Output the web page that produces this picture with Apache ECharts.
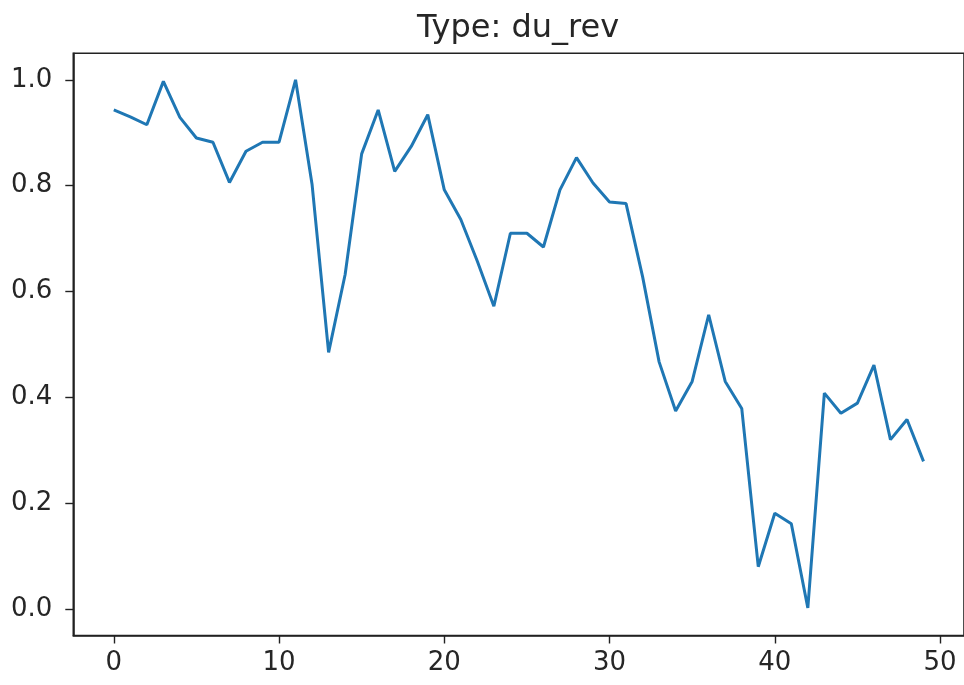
<!DOCTYPE html>
<html>
<head>
<meta charset="utf-8">
<script src="https://cdn.jsdelivr.net/npm/echarts@6/dist/echarts.min.js"></script>
<style>
html,body{margin:0;padding:0;background:#fff;}
#chart{width:964px;height:685px;}
</style>
</head>
<body>
<div id="chart"></div>
<script>
const titleText = 'Type: du_rev';
const xValues = [0,1,2,3,4,5,6,7,8,9,10,11,12,13,14,15,16,17,18,19,20,21,22,23,24,25,26,27,28,29,30,31,32,33,34,35,36,37,38,39,40,41,42,43,44,45,46,47,48,49];
const yValues = [0.943,0.930,0.915,0.997,0.929,0.890,0.882,0.806,0.865,0.882,0.882,1.000,0.802,0.485,0.632,0.860,0.943,0.827,0.874,0.934,0.792,0.736,0.657,0.572,0.710,0.710,0.684,0.792,0.853,0.805,0.769,0.766,0.628,0.467,0.374,0.430,0.556,0.430,0.379,0.080,0.181,0.161,0.002,0.408,0.370,0.389,0.461,0.320,0.358,0.279];
const xTicks = [0,10,20,30,40,50];
const yTicks = [0.0,0.2,0.4,0.6,0.8,1.0];

const chart = echarts.init(document.getElementById('chart'), null, {renderer:'canvas'});
const font = 'DejaVu Sans';
const textColor = '#262626';
chart.setOption({
  animation:false,
  backgroundColor:'#ffffff',
  title:{
    text:titleText, left:518, top:13, textAlign:'center', padding:0,
    textStyle:{fontFamily:font, fontSize:32, fontWeight:'normal', color:textColor}
  },
  grid:{left:73.3, top:53.3, bottom:49.5, right:-4, show:true, borderColor:'#222', borderWidth:1.6, backgroundColor:'transparent'},
  xAxis:{
    type:'value', min:-2.45, max:51.45,
    splitLine:{show:false},
    axisLine:{show:true, onZero:false, lineStyle:{color:'#222', width:1.6}},
    axisTick:{show:true, customValues:xTicks, length:8, lineStyle:{color:'#222', width:1.4}},
    axisLabel:{customValues:xTicks, margin:15, fontFamily:font, fontSize:26, color:textColor}
  },
  yAxis:{
    type:'value', min:-0.05, max:1.05,
    splitLine:{show:false},
    axisLine:{show:true, onZero:false, lineStyle:{color:'#222', width:1.6}},
    axisTick:{show:true, customValues:yTicks, length:8, lineStyle:{color:'#222', width:1.4}},
    axisLabel:{customValues:yTicks, margin:21, fontFamily:font, fontSize:26, color:textColor,
      formatter:function(v){return Number(v).toFixed(1);}}
  },
  series:[{
    type:'line',
    data:xValues.map((x,i)=>[x,yValues[i]]),
    showSymbol:false, symbol:'none',
    lineStyle:{color:'#1f77b4', width:3},
    itemStyle:{color:'#1f77b4'}
  }]
});
</script>
</body>
</html>
